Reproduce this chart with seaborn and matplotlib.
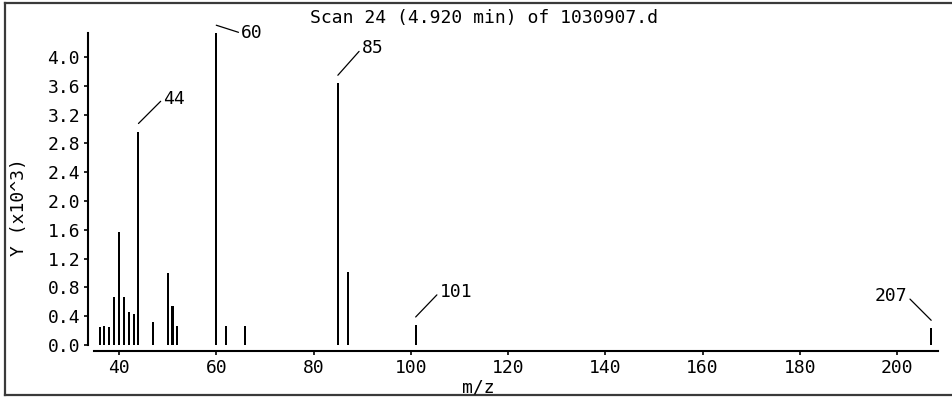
import matplotlib
matplotlib.use("Agg")
import matplotlib.pyplot as plt
from matplotlib.lines import Line2D
from matplotlib.transforms import offset_copy
import seaborn as sns
import pandas as pd

# Spectrum peaks: m/z and abundance (counts)
mz = [36, 37, 38, 39, 40, 41, 42, 43, 44, 47, 50, 51, 52, 60, 62, 66, 85, 87, 101, 207]
abundance = [250, 270, 245, 670, 1575, 670, 458, 430, 2965, 325, 996, 542, 268,
             4330, 268, 268, 3635, 1020, 278, 232]

# Labelled peaks and where their labels sit (pixel offsets from the peak top)
label_mz = [44, 60, 85, 101, 207]
label_dx = [25, 25, 24, 24, -24]
label_dy = [33, 0, 35, 33, 32]

y_ticks = [0, 400, 800, 1200, 1600, 2000, 2400, 2800, 3200, 3600, 4000]
y_tick_labels = ["0.0", "0.4", "0.8", "1.2", "1.6", "2.0", "2.4", "2.8", "3.2", "3.6", "4.0"]
x_ticks = [40, 60, 80, 100, 120, 140, 160, 180, 200]
x_tick_labels = ["40", "60", "80", "100", "120", "140", "160", "180", "200"]

title = "Scan 24 (4.920 min) of 1030907.d"

W, H = 953, 398
FS = 13
plt.rcParams["font.family"] = ["DejaVu Sans Mono", "DejaVu Sans"]

df = pd.DataFrame({"mz": mz, "abundance": abundance})

fig = plt.figure(figsize=(W / 100, H / 100), dpi=100)
fig.patch.set_facecolor("white")
ax = fig.add_axes([94 / W, 1 - 345 / H, (938 - 94) / W, (345 - 33) / H])

sns.barplot(data=df, x="mz", y="abundance", native_scale=True, width=0.42,
            color="black", saturation=1, edgecolor="none", ax=ax)

ax.set_xlim(34.86, 208.4)
ax.set_ylim(0, 4333)
ax.set_xlabel("")
ax.set_ylabel("")
ax.set_facecolor("white")

for side in ("top", "right"):
    ax.spines[side].set_visible(False)
for side in ("left", "bottom"):
    ax.spines[side].set_position(("outward", 4.3))
    ax.spines[side].set_linewidth(1.5)
    ax.spines[side].set_color("black")

ax.set_yticks(y_ticks)
ax.set_yticklabels(y_tick_labels)
ax.set_xticks(x_ticks)
ax.set_xticklabels(x_tick_labels)
ax.tick_params(axis="both", length=3.2, width=1.2, color="black",
               labelsize=FS, labelcolor="black", pad=2.5)

# Peak labels with leader lines
peaks = dict(zip(mz, abundance))
start_tr = offset_copy(ax.transData, fig=fig, x=0, y=8, units="dots")
for m, dx, dy in zip(label_mz, label_dx, label_dy):
    ha = "left" if dx > 0 else "right"
    ax.annotate(str(m), xy=(m, peaks[m]), xycoords=start_tr,
                xytext=(dx, dy - 8), textcoords="offset pixels",
                ha=ha, va="center", fontsize=FS, color="black",
                arrowprops=dict(arrowstyle="-", color="black", lw=0.9,
                                shrinkA=0, shrinkB=0,
                                relpos=(0, 0.5) if dx > 0 else (1, 0.5)),
                annotation_clip=False)

fig.text(484 / W, 1 - 18 / H, title, ha="center", va="center", fontsize=FS)
fig.text(478 / W, 1 - 387 / H, "m/z", ha="center", va="center", fontsize=FS)
fig.text(19 / W, 1 - 207 / H, "Y (x10^3)", ha="center", va="center",
         rotation=90, fontsize=FS)

# Window frame (left, top, bottom edges)
frame_kw = dict(color="#3a3a3a", lw=1.6, transform=fig.transFigure)
fig.add_artist(Line2D([5 / W, 5 / W], [3 / H, 1 - 3 / H], **frame_kw))
fig.add_artist(Line2D([5 / W, 1.0], [1 - 3 / H, 1 - 3 / H], **frame_kw))
fig.add_artist(Line2D([5 / W, 1.0], [3 / H, 3 / H], **frame_kw))

fig.savefig("out.png", dpi=100, facecolor="white")
